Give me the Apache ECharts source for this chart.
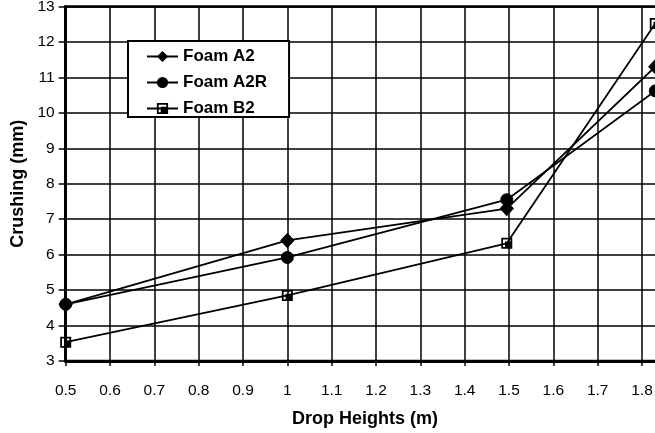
<!DOCTYPE html>
<html>
<head>
<meta charset="utf-8">
<script src="https://cdn.jsdelivr.net/npm/echarts@6/dist/echarts.min.js"></script>
<style>
  html, body { margin: 0; padding: 0; background: #fff; }
  #chart { width: 655px; height: 433px; }
</style>
</head>
<body>
<div id="chart"></div>
<script>
// Drop heights (m) at which each foam was tested
const dropHeights = [0.5, 1.0, 1.495, 1.83];

// Crushing (mm) per foam at each drop height
const foamA2 = [4.6, 6.4, 7.3, 11.3];
const foamA2R = [4.6, 5.92, 7.55, 10.62];
const foamB2 = [3.53, 4.85, 6.32, 12.52];

const seriesNames = ['Foam A2', 'Foam A2R', 'Foam B2'];

// Axis ranges
const xMin = 0.5, xMax = 1.85, xStep = 0.1;
const yMin = 3, yMax = 13, yStep = 1;

const pairs = (ys) => dropHeights.map((x, i) => [x, ys[i]]);

const fontFamily = '"Liberation Sans", Arial, sans-serif';

// Square marker: black square with a thin white "L" notch in the upper-left
const squareMark = 'path://M0,0 L10,0 L10,10 L0,10 Z M1.6,1.6 L1.6,8.4 L3.4,8.4 L3.4,3.4 L8.4,3.4 L8.4,1.6 Z';

const lineBase = {
  type: 'line',
  clip: false,
  lineStyle: { color: '#000', width: 1.8 },
  itemStyle: { color: '#000', borderColor: '#000' },
  emphasis: { disabled: true },
  animation: false
};

const chart = echarts.init(document.getElementById('chart'), null, { renderer: 'canvas' });

chart.setOption({
  animation: false,
  backgroundColor: '#fff',
  textStyle: { fontFamily },
  grid: {
    left: 65.7,
    top: 6.5,
    width: (xMax - xMin) * 443.3,
    height: 354.5,
    outerBoundsMode: 'none',
    containLabel: false,
    show: true,
    borderColor: '#000',
    borderWidth: 2.5,
    backgroundColor: 'transparent'
  },
  xAxis: {
    type: 'value',
    min: xMin,
    max: xMax,
    interval: xStep,
    name: 'Drop Heights (m)',
    nameLocation: 'middle',
    nameGap: 49,
    nameTextStyle: { color: '#000', fontWeight: 'bold', fontSize: 18, fontFamily },
    axisLine: { show: true, lineStyle: { color: '#000', width: 3 } },
    axisTick: { show: true, inside: false, length: 5, lineStyle: { color: '#000', width: 1.5 } },
    axisLabel: {
      color: '#000',
      fontSize: 15.5,
      margin: 22,
      showMaxLabel: false,
      formatter: (v) => String(parseFloat(v.toFixed(2)))
    },
    splitLine: { show: true, lineStyle: { color: '#000', width: 1.5 } }
  },
  yAxis: {
    type: 'value',
    min: yMin,
    max: yMax,
    interval: yStep,
    name: 'Crushing (mm)',
    nameLocation: 'middle',
    nameGap: 36,
    nameTextStyle: { color: '#000', fontWeight: 'bold', fontSize: 18, fontFamily },
    axisLine: { show: true, lineStyle: { color: '#000', width: 3 } },
    axisTick: { show: true, inside: false, length: 7, lineStyle: { color: '#000', width: 1.5 } },
    axisLabel: { color: '#000', fontSize: 15.5, margin: 11 },
    splitLine: { show: true, lineStyle: { color: '#000', width: 1.5 } }
  },
  legend: {
    orient: 'vertical',
    left: 128,
    top: 41,
    padding: [7, 22, 0, 18],
    itemGap: 9,
    itemWidth: 31,
    itemHeight: 14,
    backgroundColor: '#fff',
    borderColor: '#000',
    borderWidth: 2,
    borderRadius: 0,
    textStyle: { color: '#000', fontWeight: 'bold', fontSize: 17, fontFamily, padding: [0, 0, 0, 0] },
    data: seriesNames
  },
  series: [
    Object.assign({}, lineBase, {
      name: seriesNames[0],
      data: pairs(foamA2),
      symbol: 'diamond',
      symbolSize: [13, 14]
    }),
    Object.assign({}, lineBase, {
      name: seriesNames[1],
      data: pairs(foamA2R),
      symbol: 'circle',
      symbolSize: 12
    }),
    Object.assign({}, lineBase, {
      name: seriesNames[2],
      data: pairs(foamB2),
      symbol: squareMark,
      symbolSize: 11,
      itemStyle: { color: '#000', borderWidth: 0 }
    })
  ]
});
</script>
</body>
</html>
